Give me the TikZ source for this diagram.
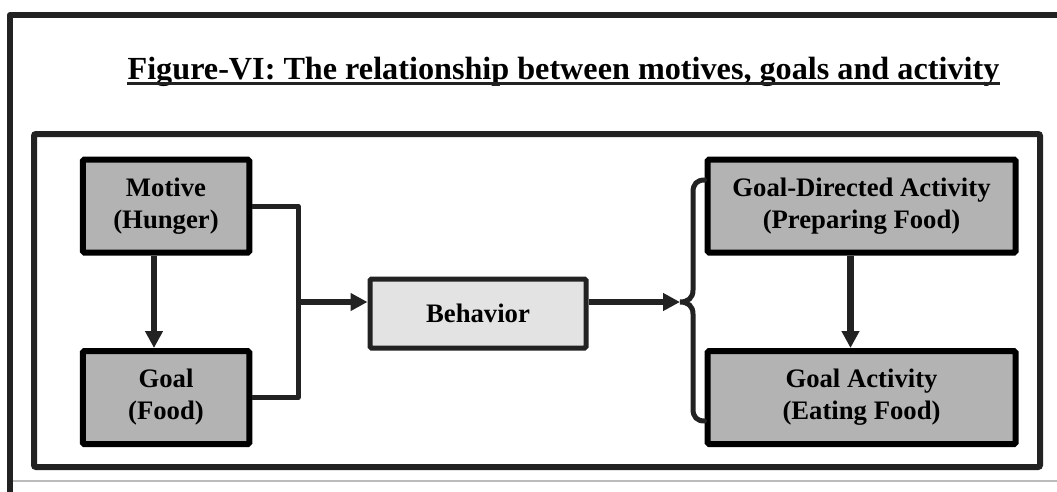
\documentclass[tikz,border=0pt]{standalone}
\usepackage{fontspec}
\setmainfont{Liberation Serif}
\usetikzlibrary{arrows.meta}
\definecolor{boxgray}{HTML}{B3B3B3}
\definecolor{lightbox}{HTML}{E3E3E3}
\definecolor{ink}{HTML}{222222}
\definecolor{rulegray}{HTML}{BBBBBB}
\tikzset{
  gbox/.style={draw=black, fill=boxgray, line width=6pt, rounded corners=1.5pt,
    minimum width=#1, minimum height=93pt, inner sep=0pt, align=center,
    font=\fontsize{26.7}{32}\selectfont\bfseries},
  bbox/.style={draw=ink, fill=lightbox, line width=5pt, rounded corners=1.5pt,
    minimum width=216pt, minimum height=69pt, inner sep=0pt, align=center,
    font=\fontsize{26.7}{32}\selectfont\bfseries},
  conn/.style={draw=ink, line width=5pt},
  arr/.style={draw=ink, line width=6.5pt, -{Triangle[length=17pt,width=17pt]}},
  frame/.style={draw=ink, line width=6pt},
}
\begin{document}
\begin{tikzpicture}[x=1pt, y=-1pt]
\useasboundingbox (0,0) rectangle (1057,491);
% outer frame
\draw[rulegray, line width=2pt] (10,481) -- (1057,481);
\draw[frame, line join=round] (10,495) -- (10,15) -- (1060,15);
% inner frame
\draw[frame, rounded corners=2pt] (34,134) rectangle (1040,467);
% title
\node[anchor=base, inner sep=0pt, font=\fontsize{32.2}{38}\selectfont\bfseries] (title) at (563.5,79)
  {Figure-VI: The relationship between motives, goals and activity};
\draw[ink, line width=3pt] ([yshift=-4pt]title.base west) -- ([yshift=-4pt]title.base east);
% boxes
\node[gbox=166.5pt] (motive) at (166,206) {Motive\\(Hunger)};
\node[gbox=166.5pt] (goal) at (166,397.5) {Goal\\(Food)};
\node[bbox] (behav) at (478,313.5) {Behavior};
\node[gbox=308pt] (gda) at (861.5,206) {Goal-Directed Activity\\(Preparing Food)};
\node[gbox=308pt] (ga) at (861.5,397.5) {Goal Activity\\(Eating Food)};
% connectors
\coordinate (j) at (298,302);
\coordinate (tip) at (680,302);
\draw[conn, line join=round] (motive.east) -| (j) |- (goal.east);
\draw[arr] (j) -- (behav.west |- j);
\draw[arr] (behav.east |- j) -- (tip);
\draw[arr] ([xshift=-12pt]motive.south) -- ([xshift=-12pt]goal.north);
\draw[arr] ([xshift=-11pt]gda.south) -- ([xshift=-11pt]ga.north);
% brace
\coordinate (bt) at (gda.west |- 0,180);
\coordinate (bb) at (ga.west |- 0,421);
\draw[conn, line cap=round] (bt) .. controls (697,180) and (693,184) .. (693,192)
  -- (693,290) .. controls (693,298) and (688,302) .. (tip)
  .. controls (688,302) and (693,306) .. (693,314)
  -- (693,409) .. controls (693,417) and (697,421) .. (bb);
\end{tikzpicture}
\end{document}
